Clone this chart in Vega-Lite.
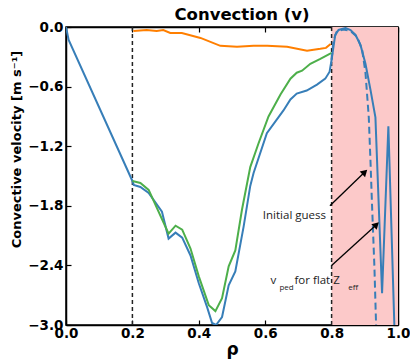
{
  "$schema": "https://vega.github.io/schema/vega-lite/v6.json",
  "width": 332,
  "height": 298,
  "autosize": {"type": "none"},
  "padding": {"left": 66, "top": 27, "right": 12, "bottom": 34},
  "background": "white",
  "title": {"text": "Convection (v)", "font": "DejaVu Sans", "fontSize": 16.5, "fontWeight": "bold", "color": "black", "dx": 10, "offset": -3},
  "config": {
    "view": {"stroke": "black", "strokeWidth": 1.5},
    "axis": {"grid": false, "domain": true, "domainColor": "black", "domainWidth": 1.5, "tickColor": "black", "tickWidth": 1.2, "tickSize": -5, "labelFlush": false, "labelOverlap": false, "labelFont": "DejaVu Sans", "labelFontWeight": "bold", "labelFontSize": 13.5, "labelColor": "black", "titleFont": "DejaVu Sans", "titleFontWeight": "bold", "titleColor": "black"}
  },
  "datasets": {
    "lines": [
      {"s":"blue","x":0,"y":0},{"s":"blue","x":0.008,"y":-0.13},{"s":"blue","x":0.2,"y":-1.55},{"s":"blue","x":0.204,"y":-1.59},{"s":"blue","x":0.224,"y":-1.61},{"s":"blue","x":0.249,"y":-1.67},{"s":"blue","x":0.289,"y":-1.86},{"s":"blue","x":0.309,"y":-2.13},{"s":"blue","x":0.33,"y":-2.07},{"s":"blue","x":0.35,"y":-2.12},{"s":"blue","x":0.375,"y":-2.3},{"s":"blue","x":0.4,"y":-2.58},{"s":"blue","x":0.425,"y":-2.82},{"s":"blue","x":0.44,"y":-2.98},{"s":"blue","x":0.452,"y":-3.0},{"s":"blue","x":0.47,"y":-2.92},{"s":"blue","x":0.49,"y":-2.6},{"s":"blue","x":0.51,"y":-2.46},{"s":"blue","x":0.535,"y":-2.01},{"s":"blue","x":0.555,"y":-1.6},{"s":"blue","x":0.565,"y":-1.47},{"s":"blue","x":0.605,"y":-1.07},{"s":"blue","x":0.655,"y":-0.84},{"s":"blue","x":0.676,"y":-0.73},{"s":"blue","x":0.695,"y":-0.67},{"s":"blue","x":0.725,"y":-0.64},{"s":"blue","x":0.756,"y":-0.58},{"s":"blue","x":0.781,"y":-0.52},{"s":"blue","x":0.794,"y":-0.45},{"s":"blue","x":0.8,"y":-0.33},{"s":"blue","x":0.806,"y":-0.19},{"s":"blue","x":0.811,"y":-0.08},{"s":"blue","x":0.821,"y":-0.03},{"s":"blue","x":0.842,"y":-0.01},{"s":"blue","x":0.857,"y":-0.03},{"s":"blue","x":0.872,"y":-0.08},{"s":"blue","x":0.887,"y":-0.18},{"s":"blue","x":0.902,"y":-0.37},{"s":"blue","x":0.917,"y":-0.63},{"s":"blue","x":0.932,"y":-0.91},{"s":"blue","x":0.952,"y":-2.68},{"s":"blue","x":0.971,"y":-1.0},{"s":"blue","x":0.989,"y":-3.0},
      {"s":"green","x":0.2,"y":-1.55},{"s":"green","x":0.224,"y":-1.57},{"s":"green","x":0.249,"y":-1.64},{"s":"green","x":0.309,"y":-2.08},{"s":"green","x":0.33,"y":-2.0},{"s":"green","x":0.35,"y":-2.04},{"s":"green","x":0.375,"y":-2.23},{"s":"green","x":0.4,"y":-2.51},{"s":"green","x":0.43,"y":-2.8},{"s":"green","x":0.45,"y":-2.86},{"s":"green","x":0.47,"y":-2.73},{"s":"green","x":0.49,"y":-2.41},{"s":"green","x":0.51,"y":-2.25},{"s":"green","x":0.53,"y":-1.84},{"s":"green","x":0.555,"y":-1.41},{"s":"green","x":0.58,"y":-1.17},{"s":"green","x":0.61,"y":-0.9},{"s":"green","x":0.646,"y":-0.68},{"s":"green","x":0.676,"y":-0.52},{"s":"green","x":0.695,"y":-0.46},{"s":"green","x":0.711,"y":-0.44},{"s":"green","x":0.736,"y":-0.37},{"s":"green","x":0.766,"y":-0.32},{"s":"green","x":0.8,"y":-0.26},
      {"s":"orange","x":0.203,"y":-0.04},{"s":"orange","x":0.243,"y":-0.03},{"s":"orange","x":0.273,"y":-0.04},{"s":"orange","x":0.293,"y":-0.03},{"s":"orange","x":0.314,"y":-0.06},{"s":"orange","x":0.349,"y":-0.06},{"s":"orange","x":0.405,"y":-0.11},{"s":"orange","x":0.465,"y":-0.19},{"s":"orange","x":0.515,"y":-0.2},{"s":"orange","x":0.565,"y":-0.19},{"s":"orange","x":0.606,"y":-0.19},{"s":"orange","x":0.666,"y":-0.2},{"s":"orange","x":0.726,"y":-0.24},{"s":"orange","x":0.766,"y":-0.22},{"s":"orange","x":0.783,"y":-0.21},{"s":"orange","x":0.797,"y":-0.17},
      {"s":"dashed","x":0.8,"y":-0.33},{"s":"dashed","x":0.806,"y":-0.13},{"s":"dashed","x":0.815,"y":-0.05},{"s":"dashed","x":0.835,"y":-0.025},{"s":"dashed","x":0.857,"y":-0.04},{"s":"dashed","x":0.877,"y":-0.1},{"s":"dashed","x":0.892,"y":-0.23},{"s":"dashed","x":0.902,"y":-0.46},{"s":"dashed","x":0.912,"y":-0.91},{"s":"dashed","x":0.917,"y":-1.34},{"s":"dashed","x":0.922,"y":-1.81},{"s":"dashed","x":0.929,"y":-2.42},{"s":"dashed","x":0.934,"y":-3.0}
    ],
    "arrows": [
      {"x":0.795,"y":-1.8,"x2":0.9,"y2":-1.46},
      {"x":0.8,"y":-2.4,"x2":0.935,"y2":-1.99}
    ],
    "labels": [
      {"t":"Initial guess","x":0.688,"y":-1.9,"k":"center"},
      {"t":"v","x":0.616,"y":-2.56,"k":"main"},
      {"t":"ped","x":0.643,"y":-2.63,"k":"sub"},
      {"t":"for flat Z","x":0.688,"y":-2.56,"k":"main"},
      {"t":"eff","x":0.85,"y":-2.63,"k":"sub"}
    ]
  },
  "resolve": {"axis": {"x": "independent", "y": "independent"}},
  "layer": [
    {
      "data": {"values": [{"a": 0.8, "b": 1.0}]},
      "mark": {"type": "rect", "color": "#fcc9c9"},
      "encoding": {
        "x": {"field": "a", "type": "quantitative", "scale": {"domain": [0, 1], "nice": false, "zero": false}, "axis": null},
        "x2": {"field": "b"}
      }
    },
    {
      "data": {"values": [{"a": 0.2}, {"a": 0.8}]},
      "mark": {"type": "rule", "color": "#222", "strokeWidth": 1.5, "strokeDash": [4, 3]},
      "encoding": {
        "x": {"field": "a", "type": "quantitative", "axis": null}
      }
    },
    {
      "data": {"name": "lines"},
      "transform": [{"filter": "datum.s !== 'dashed'"}],
      "mark": {"type": "line", "strokeWidth": 2, "clip": true},
      "encoding": {
        "x": {"field": "x", "type": "quantitative", "scale": {"domain": [0, 1], "nice": false, "zero": false}, "axis": {"orient": "bottom", "values": [0, 0.2, 0.4, 0.6, 0.8, 1.0], "format": ".1f", "labelPadding": 6, "title": "ρ", "titleFontSize": 17, "titlePadding": 2}},
        "y": {"field": "y", "type": "quantitative", "scale": {"domain": [-3, 0], "nice": false, "zero": false}, "axis": {"orient": "left", "values": [0, -0.6, -1.2, -1.8, -2.4, -3.0], "format": ".1f", "labelPadding": 8, "title": "Convective velocity [m s⁻¹]", "titleFontSize": 13, "titleAngle": 270, "titleX": -50, "titleY": 122, "titleAlign": "center", "titleBaseline": "middle"}},
        "color": {"field": "s", "type": "nominal", "scale": {"domain": ["blue", "green", "orange"], "range": ["#377eb8", "#4daf4a", "#ff7f00"]}, "legend": null},
        "detail": {"field": "s"}
      }
    },
    {
      "data": {"name": "lines"},
      "transform": [{"filter": "datum.s === 'dashed'"}],
      "mark": {"type": "line", "strokeWidth": 2, "color": "#377eb8", "strokeDash": [7, 4], "clip": true},
      "encoding": {
        "x": {"field": "x", "type": "quantitative", "axis": {"orient": "top", "values": [0, 0.2, 0.4, 0.6, 0.8, 1.0], "labels": false, "title": null}},
        "y": {"field": "y", "type": "quantitative", "axis": {"orient": "right", "values": [0, -0.6, -1.2, -1.8, -2.4, -3.0], "labels": false, "title": null}}
      }
    },
    {
      "data": {"name": "arrows"},
      "mark": {"type": "rule", "color": "black", "strokeWidth": 1.3},
      "encoding": {
        "x": {"field": "x", "type": "quantitative", "axis": null},
        "y": {"field": "y", "type": "quantitative", "axis": null},
        "x2": {"field": "x2"},
        "y2": {"field": "y2"}
      }
    },
    {
      "data": {"name": "arrows"},
      "mark": {"type": "point", "shape": "triangle-up", "filled": true, "color": "black", "size": 60, "angle": 46, "opacity": 1},
      "encoding": {
        "x": {"field": "x2", "type": "quantitative", "axis": null},
        "y": {"field": "y2", "type": "quantitative", "axis": null}
      }
    },
    {
      "data": {"name": "labels"},
      "transform": [{"filter": "datum.k === 'center'"}],
      "mark": {"type": "text", "font": "Open Sans", "fontSize": 11.5, "color": "#222", "align": "center", "baseline": "middle"},
      "encoding": {
        "x": {"field": "x", "type": "quantitative", "axis": null},
        "y": {"field": "y", "type": "quantitative", "axis": null},
        "text": {"field": "t"}
      }
    },
    {
      "data": {"name": "labels"},
      "transform": [{"filter": "datum.k === 'main'"}],
      "mark": {"type": "text", "font": "Open Sans", "fontSize": 11.5, "color": "#222", "align": "left", "baseline": "middle"},
      "encoding": {
        "x": {"field": "x", "type": "quantitative", "axis": null},
        "y": {"field": "y", "type": "quantitative", "axis": null},
        "text": {"field": "t"}
      }
    },
    {
      "data": {"name": "labels"},
      "transform": [{"filter": "datum.k === 'sub'"}],
      "mark": {"type": "text", "font": "Open Sans", "fontSize": 8, "color": "#222", "align": "left", "baseline": "middle"},
      "encoding": {
        "x": {"field": "x", "type": "quantitative", "axis": null},
        "y": {"field": "y", "type": "quantitative", "axis": null},
        "text": {"field": "t"}
      }
    }
  ]
}
